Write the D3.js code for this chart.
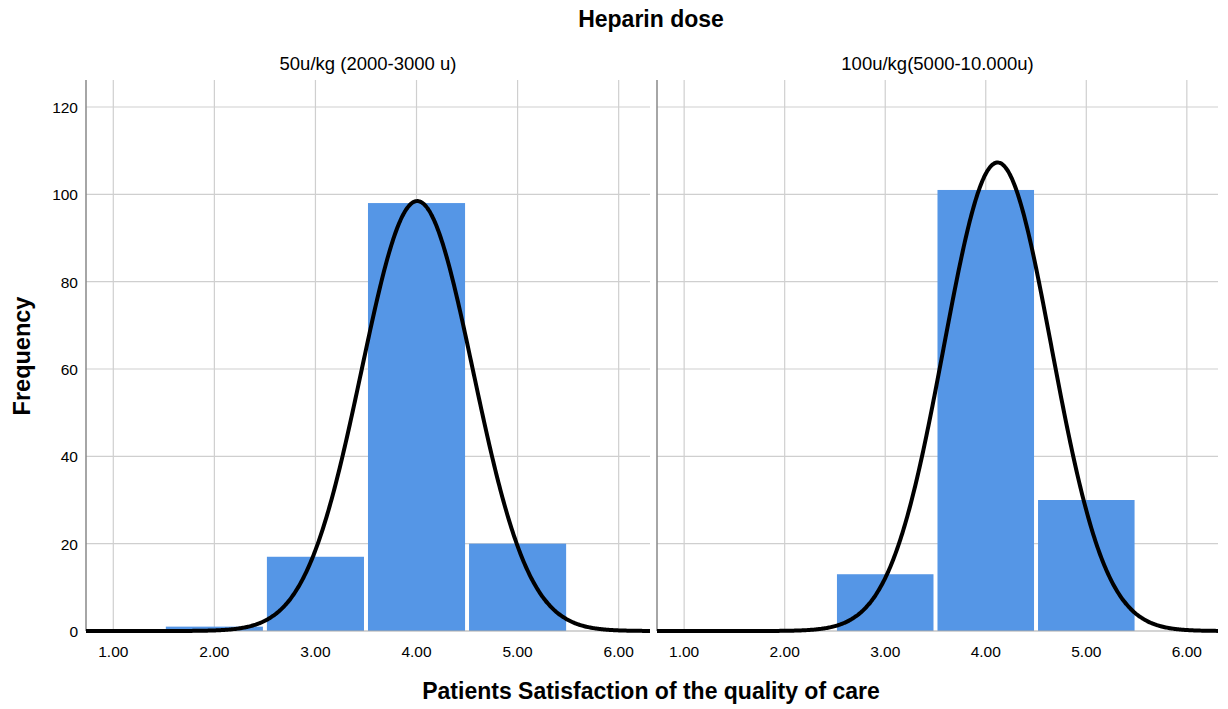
<!DOCTYPE html>
<html>
<head>
<meta charset="utf-8">
<script src="https://cdn.jsdelivr.net/npm/d3@7"></script>
<style>
  body { margin: 0; background: #fff; }
  text { font-family: "Liberation Sans", Arial, sans-serif; fill: #000; }
</style>
</head>
<body>
<script>
// bin centres and counts per panel
var binCenters = [2, 3, 4, 5];
var panelTitles = ["50u/kg (2000-3000 u)", "100u/kg(5000-10.000u)"];
var countsLow = [1, 17, 98, 20];
var countsHigh = [0, 13, 101, 30];
var xTicks = [1, 2, 3, 4, 5, 6];
var yTicks = [0, 20, 40, 60, 80, 100, 120];

var w = 1228, h = 709;
var svg = d3.select("body").append("svg")
  .attr("width", w)
  .attr("height", h);

var plotTop = 80, plotBottom = 631;
var panels = [
  {title: panelTitles[0], counts: countsLow, x0: 86, x1: 650},
  {title: panelTitles[1], counts: countsHigh, x0: 657, x1: 1218}
];

var y = d3.scaleLinear().domain([0, 120]).range([plotBottom, 107]);

panels.forEach(function(p, pi){
  var x = d3.scaleLinear().domain([0.73, 6.31]).range([p.x0, p.x1]);
  var g = svg.append("g");

  // grid
  g.selectAll(".vg").data(xTicks).enter().append("line")
    .attr("x1", function(d){ return x(d); })
    .attr("x2", function(d){ return x(d); })
    .attr("y1", plotTop).attr("y2", plotBottom)
    .attr("stroke", "#cfcfcf").attr("stroke-width", 1.2);
  g.selectAll(".hg").data(yTicks.slice(1)).enter().append("line")
    .attr("x1", p.x0).attr("x2", p.x1)
    .attr("y1", function(d){ return y(d); })
    .attr("y2", function(d){ return y(d); })
    .attr("stroke", "#cfcfcf").attr("stroke-width", 1.2);

  // bars
  var data = binCenters.map(function(c, i){ return {c: c, n: p.counts[i]}; })
    .filter(function(d){ return d.n > 0; });
  g.selectAll(".bar").data(data).enter().append("rect")
    .attr("x", function(d){ return x(d.c - 0.5) + 2; })
    .attr("width", function(d){ return x(d.c + 0.5) - x(d.c - 0.5) - 4; })
    .attr("y", function(d){ return y(d.n); })
    .attr("height", function(d){ return y(0) - y(d.n); })
    .attr("fill", "#5596e6");

  // axes lines
  g.append("line").attr("x1", p.x0).attr("x2", p.x0)
    .attr("y1", plotTop).attr("y2", plotBottom)
    .attr("stroke", "#888").attr("stroke-width", 1.5);
  g.append("line").attr("x1", p.x0).attr("x2", p.x1)
    .attr("y1", plotBottom).attr("y2", plotBottom)
    .attr("stroke", "#aaa").attr("stroke-width", 1.2);

  // normal curve from binned data
  var N = d3.sum(data, function(d){ return d.n; });
  var mean = d3.sum(data, function(d){ return d.c * d.n; }) / N;
  var ss = d3.sum(data, function(d){ return d.n * (d.c - mean) * (d.c - mean); });
  var sd = Math.sqrt(ss / (N - 1));
  var xs = d3.range(0.73, 6.315, 0.01);
  var line = d3.line()
    .x(function(v){ return x(v); })
    .y(function(v){
      return y(N / (sd * Math.sqrt(2 * Math.PI)) * Math.exp(-0.5 * Math.pow((v - mean) / sd, 2)));
    })
    .curve(d3.curveBasis);
  g.append("path").datum(xs)
    .attr("d", line)
    .attr("fill", "none")
    .attr("stroke", "#000")
    .attr("stroke-width", 4);

  // x tick labels
  g.selectAll(".xt").data(xTicks).enter().append("text")
    .attr("x", function(d){ return x(d); })
    .attr("y", 657)
    .attr("text-anchor", "middle")
    .attr("font-size", 15.5)
    .text(function(d){ return d.toFixed(2); });

  // panel title
  g.append("text")
    .attr("x", (p.x0 + p.x1) / 2)
    .attr("y", 70)
    .attr("text-anchor", "middle")
    .attr("font-size", 18.5)
    .text(p.title);

  if (pi === 0) {
    g.selectAll(".yt").data(yTicks).enter().append("text")
      .attr("x", 78)
      .attr("y", function(d){ return y(d) + 6; })
      .attr("text-anchor", "end")
      .attr("font-size", 15.5)
      .text(function(d){ return d; });
  }
});

svg.append("text")
  .attr("x", 651).attr("y", 27)
  .attr("text-anchor", "middle")
  .attr("font-size", 23).attr("font-weight", "bold")
  .text("Heparin dose");

svg.append("text")
  .attr("x", 651).attr("y", 699)
  .attr("text-anchor", "middle")
  .attr("font-size", 23).attr("font-weight", "bold")
  .text("Patients Satisfaction of the quality of care");

svg.append("text")
  .attr("transform", "translate(30,356) rotate(-90)")
  .attr("text-anchor", "middle")
  .attr("font-size", 23.5).attr("font-weight", "bold")
  .text("Frequency");
</script>
</body>
</html>
